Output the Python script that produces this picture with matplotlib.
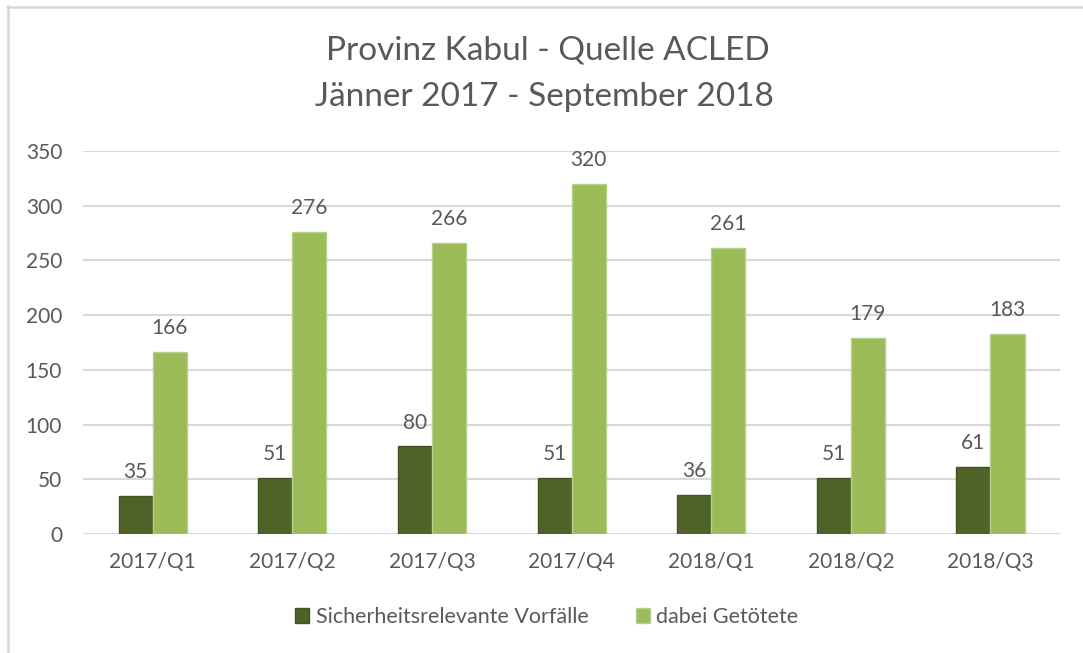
import numpy as np
import matplotlib.pyplot as plt
from matplotlib.lines import Line2D
from matplotlib.patches import Patch

# Kabul province, ACLED, quarterly
quarters = ["2017/Q1", "2017/Q2", "2017/Q3", "2017/Q4", "2018/Q1", "2018/Q2", "2018/Q3"]
incidents = [35, 51, 80, 51, 36, 51, 61]
killed = [166, 276, 266, 320, 261, 179, 183]
series_names = ["Sicherheitsrelevante Vorfälle", "dabei Getötete"]

plt.rcParams["font.family"] = ["Lato", "DejaVu Sans"]
TXT = "#595959"
DARK = "#4F6228"
LIGHT = "#9BBB59"
GRID = "#D9D9D9"

fig = plt.figure(figsize=(10.83, 6.53), dpi=100)
ax = fig.add_axes([0.0766, 0.1822, 0.9024, 0.5866])

x = np.arange(len(quarters))
w = 0.244
b1 = ax.bar(x - w / 2, incidents, w, color=DARK, edgecolor="#435421", linewidth=1.0, zorder=3)
b2 = ax.bar(x + w / 2, killed, w, color=LIGHT, edgecolor="#B3D38A", linewidth=1.0, zorder=3)

for bars in (b1, b2):
    for r in bars:
        ax.annotate(f"{int(r.get_height())}", (r.get_x() + r.get_width() / 2, r.get_height()),
                    xytext=(0, 10), textcoords="offset points", ha="center", va="bottom",
                    fontsize=15, color=TXT)

ax.set_xlim(-0.5, len(quarters) - 0.5)
ax.set_ylim(0, 350)
ax.set_yticks(range(0, 351, 50))
ax.set_xticks(x)
ax.set_xticklabels(quarters)
ax.tick_params(axis="both", length=0, labelsize=15, labelcolor=TXT)
ax.tick_params(axis="x", pad=13)
ax.tick_params(axis="y", pad=15)
for lbl in ax.get_yticklabels():
    lbl.set_horizontalalignment("right")
ax.grid(axis="y", color=GRID, linewidth=1.5, zorder=0)
for s in ax.spines.values():
    s.set_visible(False)

fig.text(0.506, 0.923, "Provinz Kabul - Quelle ACLED", ha="center", va="center", fontsize=24, color=TXT)
fig.text(0.503, 0.851, "Jänner 2017 - September 2018", ha="center", va="center", fontsize=24, color=TXT)

handles = [Patch(facecolor=DARK, edgecolor="#435421"), Patch(facecolor=LIGHT, edgecolor="#B3D38A")]
fig.legend(handles, series_names, loc="center", bbox_to_anchor=(0.505, 0.055), ncol=2, frameon=False,
           fontsize=15.5, labelcolor=TXT, handlelength=0.65, handleheight=0.65, handletextpad=0.3,
           columnspacing=2.2)

# chart frame (top and left edges)
fig.add_artist(Line2D([7 / 1083, 1], [1 - 6.5 / 653] * 2, transform=fig.transFigure, color=GRID, linewidth=1.8))
fig.add_artist(Line2D([7.5 / 1083] * 2, [0, 1 - 6 / 653], transform=fig.transFigure, color=GRID, linewidth=1.8))

fig.savefig("out.png", dpi=100)
